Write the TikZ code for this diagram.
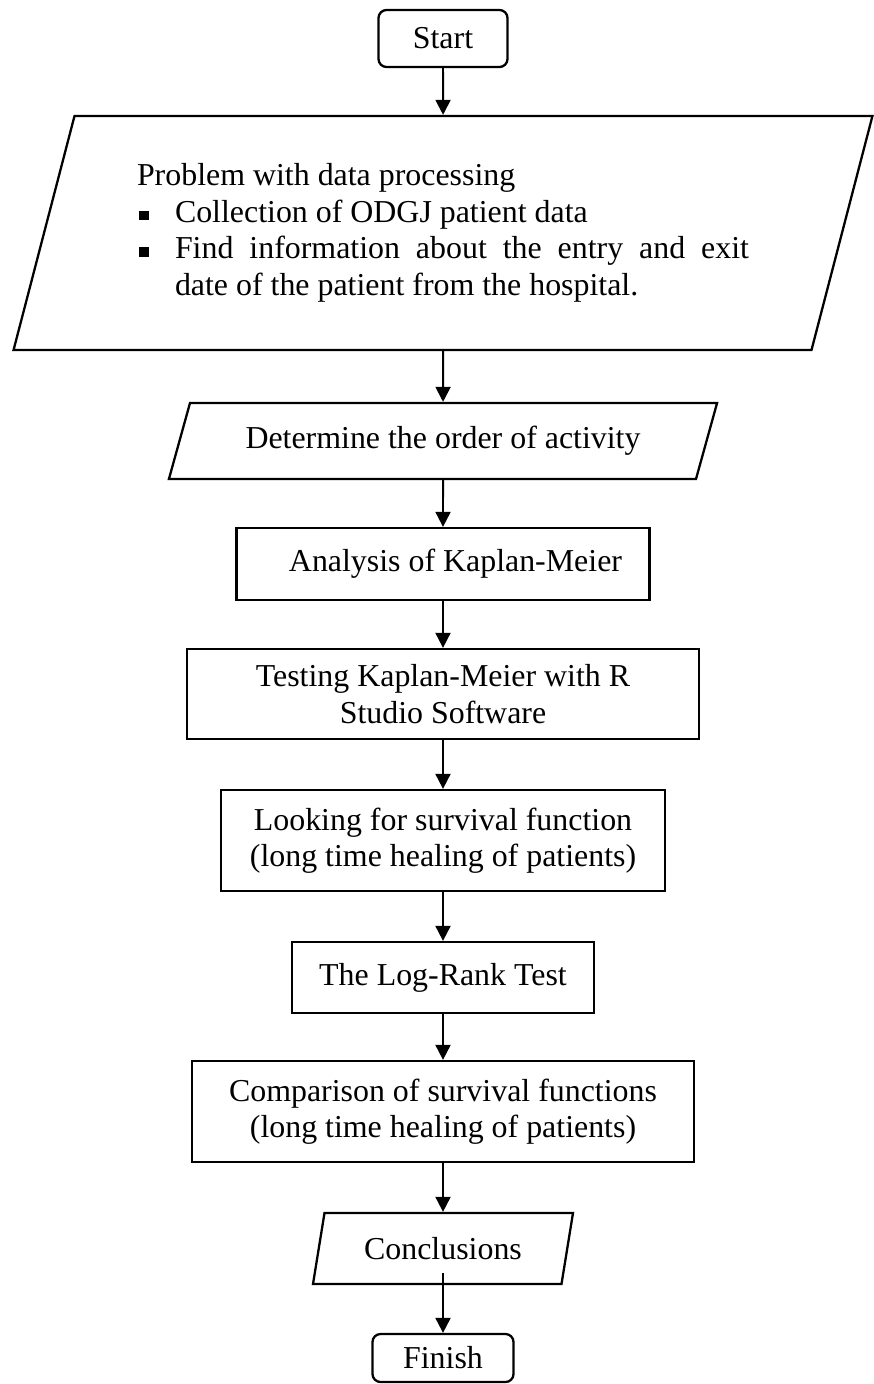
\documentclass[tikz,border=0pt]{standalone}
\usepackage{fontspec}
\setmainfont{Liberation Serif}
\usetikzlibrary{shapes, arrows.meta}

\tikzset{
  flowfont/.style={font=\fontsize{18.15}{20.8}\selectfont},
  terminal/.style={draw, line width=1.3pt, rounded corners=0.16cm, flowfont},
  process/.style={draw, line width=1.3pt, align=center, flowfont},
  io/.style 2 args={draw, line width=1.3pt, trapezium, inner sep=0pt,
    trapezium left angle=#1, trapezium right angle=#2, flowfont},
  flowarrow/.style={line width=1.1pt, -{Triangle[width=0.3cm, length=0.3cm]}}
}
\newcommand{\bulsq}{\raisebox{0.06em}{\rule{0.3em}{0.3em}}}
\newcommand{\iotext}[3]{\parbox[c][#2][c]{#1}{\centering #3}}

\begin{document}
\begin{tikzpicture}
        \node [terminal, minimum width=2.58cm, minimum height=1.14cm] (start) at (8.86, -0.77) {Start};
        \node [io={75.4}{104.6}] (problem) at (8.86, -4.66) {\iotext{14.74cm}{4.68cm}{%
          \begin{minipage}{12.24cm}
            \tolerance=2000 \hyphenpenalty=10000
            Problem with data processing
            \begin{list}{\bulsq}{\leftmargin=0.76cm \labelwidth=0.2cm \labelsep=0.52cm
              \topsep=0pt \partopsep=0pt \itemsep=0pt \parsep=0pt}
            \item Collection of ODGJ patient data
            \item Find information about the entry and exit\linebreak date of the patient from the hospital.
            \end{list}
          \end{minipage}}};
        \node [io={74.5}{105.5}] (order) at (8.86, -8.82) {\iotext{10.12cm}{1.52cm}{Determine the order of activity}};
        \node [process, minimum width=8.26cm, minimum height=1.44cm] (analysis) at (8.86, -11.28) {\hspace{0.5cm}Analysis of Kaplan-Meier};
        \node [process, minimum width=10.24cm, minimum height=1.8cm] (testing) at (8.86, -13.88) {Testing Kaplan-Meier with R\\Studio Software};
        \node [process, minimum width=8.88cm, minimum height=2.02cm] (looking) at (8.86, -16.81) {Looking for survival function\\(long time healing of patients)};
        \node [process, minimum width=6.04cm, minimum height=1.42cm] (logrank) at (8.86, -19.55) {The Log-Rank Test};
        \node [process, minimum width=10.04cm, minimum height=2.02cm] (compare) at (8.86, -22.23) {Comparison of survival functions\\(long time healing of patients)};
        \node [io={80.8}{99.2}] (concl) at (8.86, -24.97) {\iotext{4.74cm}{1.42cm}{Conclusions}};
        \node [terminal, minimum width=2.82cm, minimum height=0.96cm] (finish) at (8.86, -27.16) {Finish};

        \draw[flowarrow] (start) -- (problem);
        \draw[flowarrow] (problem) -- (order);
        \draw[flowarrow] (order) -- (analysis);
        \draw[flowarrow] (analysis) -- (testing);
        \draw[flowarrow] (testing) -- (looking);
        \draw[flowarrow] (looking) -- (logrank);
        \draw[flowarrow] (logrank) -- (compare);
        \draw[flowarrow] (compare) -- (concl);
        \draw[flowarrow] ([yshift=0.24cm]concl.south) -- (finish);

        \path[use as bounding box] (0,0) rectangle (17.2,-27.68);
\end{tikzpicture}
\end{document}
